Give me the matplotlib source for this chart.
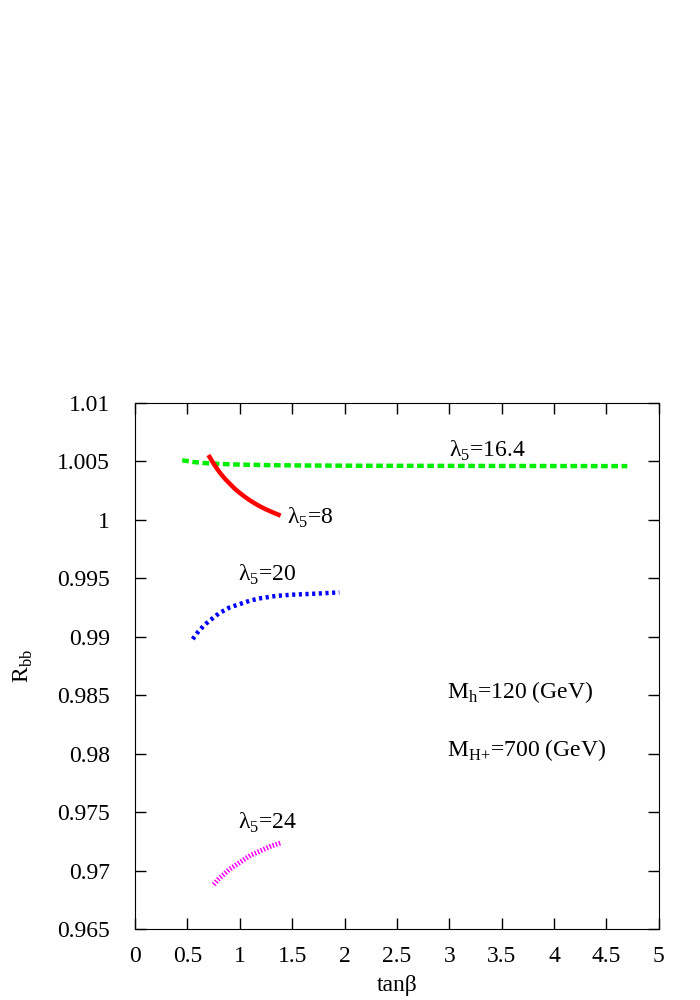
import numpy as np
import matplotlib.pyplot as plt

plt.rcParams['font.family'] = ['Liberation Serif', 'DejaVu Serif']
plt.rcParams['mathtext.fontset'] = 'custom'
plt.rcParams['mathtext.rm'] = 'Liberation Serif'

# lambda5 = 16.4
tb_g = [0.45, 0.55, 0.65, 0.8, 1.0, 1.3, 1.7, 2.2, 3.0, 3.8, 4.7]
r_g = [1.0051, 1.00496, 1.00487, 1.00479, 1.00473, 1.00468, 1.00465, 1.00463, 1.00462, 1.00461, 1.0046]
# lambda5 = 8
tb_r = [0.70, 0.73, 0.76, 0.79, 0.82, 0.86, 0.90, 0.95, 1.0, 1.05, 1.1, 1.15, 1.2, 1.25, 1.3, 1.35, 1.39]
r_r = [1.00555, 1.0051, 1.00467, 1.00428, 1.00392, 1.00350, 1.00313, 1.00268, 1.00230, 1.00196, 1.00165,
       1.00137, 1.00112, 1.00090, 1.00070, 1.00051, 1.00036]
# lambda5 = 20
tb_b = [0.55, 0.6, 0.65, 0.7, 0.8, 0.9, 1.0, 1.1, 1.2, 1.35, 1.5, 1.75, 1.95]
r_b = [0.9898, 0.9904, 0.9909, 0.9913, 0.9920, 0.9925, 0.9928, 0.9931, 0.9933, 0.9935, 0.9936, 0.9937, 0.9938]
# lambda5 = 24
tb_m = [0.75, 0.8, 0.85, 0.9, 0.95, 1.0, 1.05, 1.1, 1.15, 1.2, 1.25, 1.3, 1.4]
r_m = [0.9688, 0.9693, 0.9697, 0.9701, 0.9704, 0.9707, 0.9710, 0.9713, 0.9715, 0.9717, 0.9719, 0.9721, 0.9724]

fig = plt.figure(figsize=(7, 10), dpi=100)
ax = fig.add_axes([0.193, 0.071, 0.748, 0.526])

ax.plot(tb_g, r_g, color='#00ee00', lw=3.2, dashes=(1.5, 0.8))
ax.plot(tb_r, r_r, color='red', lw=3.2, solid_capstyle='butt')
ax.plot(tb_b, r_b, color='blue', lw=3.2, dashes=(0.7, 0.8))
ax.plot(tb_m, r_m, color='magenta', lw=3.6, dashes=(0.3, 0.35))

fs = 17
ax.text(3.0, 1.0059, 'λ$_5$=16.4', fontsize=fs, va='center')
ax.text(1.45, 1.0002, 'λ$_5$=8', fontsize=fs, va='center')
ax.text(0.98, 0.9953, 'λ$_5$=20', fontsize=fs, va='center')
ax.text(0.98, 0.9741, 'λ$_5$=24', fontsize=fs, va='center')
ax.text(2.98, 0.9853, 'M$_\\mathrm{h}$=120 (GeV)', fontsize=fs, va='center')
ax.text(2.98, 0.9803, 'M$_\\text{H+}$=700 (GeV)', fontsize=fs, va='center')

ax.set_xlim(0, 5)
ax.set_ylim(0.965, 1.01)
ax.set_xticks(np.arange(0, 5.01, 0.5))
ax.set_xticklabels(['0', '0.5', '1', '1.5', '2', '2.5', '3', '3.5', '4', '4.5', '5'])
ax.set_yticks(np.arange(0.965, 1.0101, 0.005))
ax.set_yticklabels(['0.965', '0.97', '0.975', '0.98', '0.985', '0.99', '0.995', '1', '1.005', '1.01'])
ax.tick_params(direction='in', top=True, right=True, length=8, width=1, labelsize=17)
ax.tick_params(axis='y', pad=18)
ax.tick_params(axis='x', pad=12)
ax.set_xlabel('tanβ', fontsize=fs, labelpad=6)
ax.set_ylabel('R$_\\mathrm{bb}$', fontsize=fs, labelpad=16)

fig.savefig('out.png', dpi=100)
